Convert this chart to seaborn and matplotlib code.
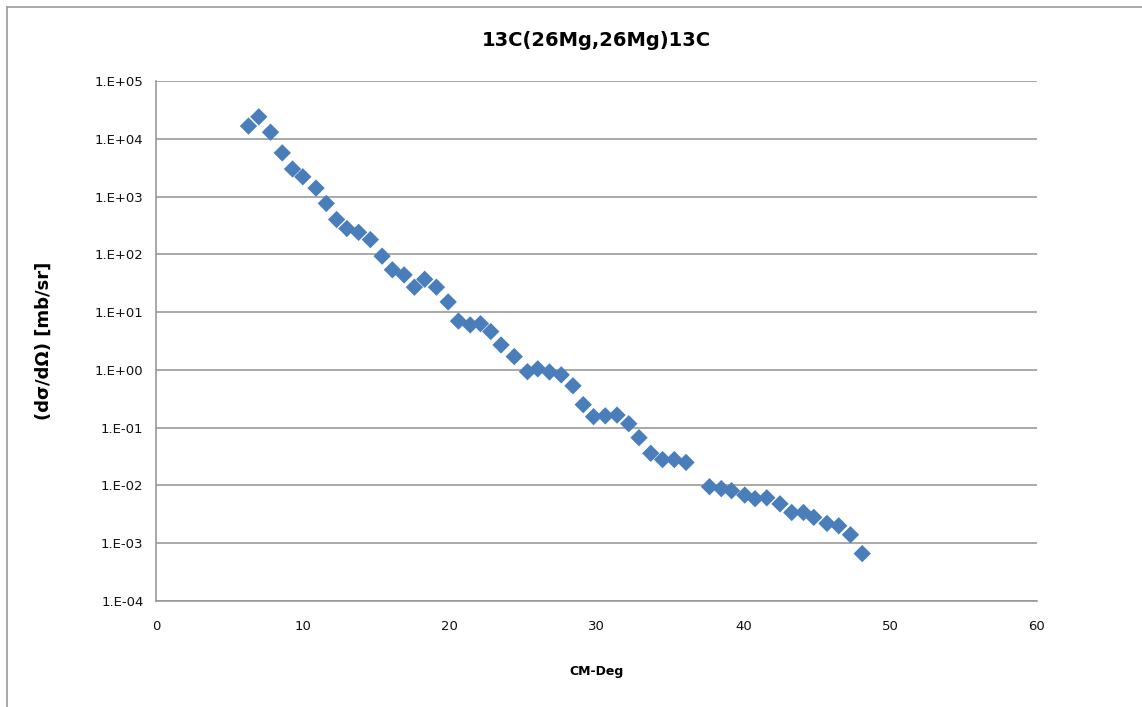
import numpy as np
import pandas as pd
import matplotlib
matplotlib.use("Agg")
import matplotlib.pyplot as plt
import seaborn as sns
from matplotlib.lines import Line2D

# data
cm_deg = [6.3, 7.0, 7.8, 8.6, 9.3, 10.0, 10.9, 11.6, 12.3, 13.0, 13.8, 14.6,
          15.4, 16.1, 16.9, 17.6, 18.3, 19.1, 19.9, 20.6, 21.4, 22.1, 22.8,
          23.5, 24.4, 25.3, 26.0, 26.8, 27.6, 28.4, 29.1, 29.8, 30.6, 31.4,
          32.2, 32.9, 33.7, 34.5, 35.3, 36.1, 37.7, 38.5, 39.2, 40.1, 40.8,
          41.6, 42.5, 43.3, 44.1, 44.8, 45.7, 46.5, 47.3, 48.1]
xsec = [1.66e4, 2.4e4, 1.3e4, 5.7e3, 3.0e3, 2.2e3, 1.4e3, 7.6e2, 4.0e2, 2.8e2,
        2.4e2, 1.8e2, 93, 54, 44, 27, 37, 27, 15, 7.0, 6.0, 6.3, 4.6, 2.7, 1.7,
        0.93, 1.04, 0.92, 0.82, 0.53, 0.25, 0.155, 0.16, 0.165, 0.117, 0.067,
        0.036, 0.028, 0.028, 0.025, 0.0095, 0.0088, 0.0081, 0.0068, 0.0059,
        0.0061, 0.0048, 0.0034, 0.0034, 0.0028, 0.0022, 0.0020, 0.0014, 0.00066]

df = pd.DataFrame({"CM-Deg": cm_deg, "xsec": xsec})

sns.set_style("white")
plt.rcParams['font.family'] = ['DejaVu Sans']
plt.rcParams['text.color'] = 'black'
plt.rcParams['axes.labelcolor'] = 'black'

fig = plt.figure(figsize=(11.42, 7.07), dpi=100)
ax = fig.add_axes([0.1366, 0.150, 0.7714, 0.7354])

sns.scatterplot(data=df, x="CM-Deg", y="xsec", marker="D", s=78,
                color="#4a7ebb", edgecolor="none", ax=ax, zorder=3)

ax.set_yscale("log")
ax.set_ylim(1e-4, 1e5)
ax.set_xlim(0, 60)
ax.set_xticks(range(0, 61, 10))
ax.set_yticks([10.0 ** k for k in range(-4, 6)])
ax.set_yticklabels([f"1.E{k:+03d}" for k in range(-4, 6)])
ax.minorticks_off()
ax.yaxis.grid(True, color="#999999", linewidth=1.2)
ax.xaxis.grid(False)
ax.tick_params(length=0, labelsize=9.5, pad=9, colors="#111111")
ax.tick_params(axis="x", pad=14)

for s in ["top", "right"]:
    ax.spines[s].set_visible(False)
for s in ["left", "bottom"]:
    ax.spines[s].set_color("#999999")
    ax.spines[s].set_linewidth(1.2)

ax.set_xlabel("CM-Deg", fontsize=9, fontweight="bold", labelpad=23)
ax.set_ylabel("(dσ/dΩ) [mb/sr]", fontsize=13, fontweight="bold", labelpad=30)
fig.text(0.522, 0.943, "13C(26Mg,26Mg)13C", ha="center", va="center",
         fontsize=14, fontweight="bold", color="black")

# chart area border (top and left edges visible in reference)
fig.add_artist(Line2D([0.0061, 0.0061], [0.0, 0.990], transform=fig.transFigure,
                      color="#999999", linewidth=1.2))
fig.add_artist(Line2D([0.0061, 1.0], [0.990, 0.990], transform=fig.transFigure,
                      color="#999999", linewidth=1.2))

fig.savefig("out.png", dpi=100)
